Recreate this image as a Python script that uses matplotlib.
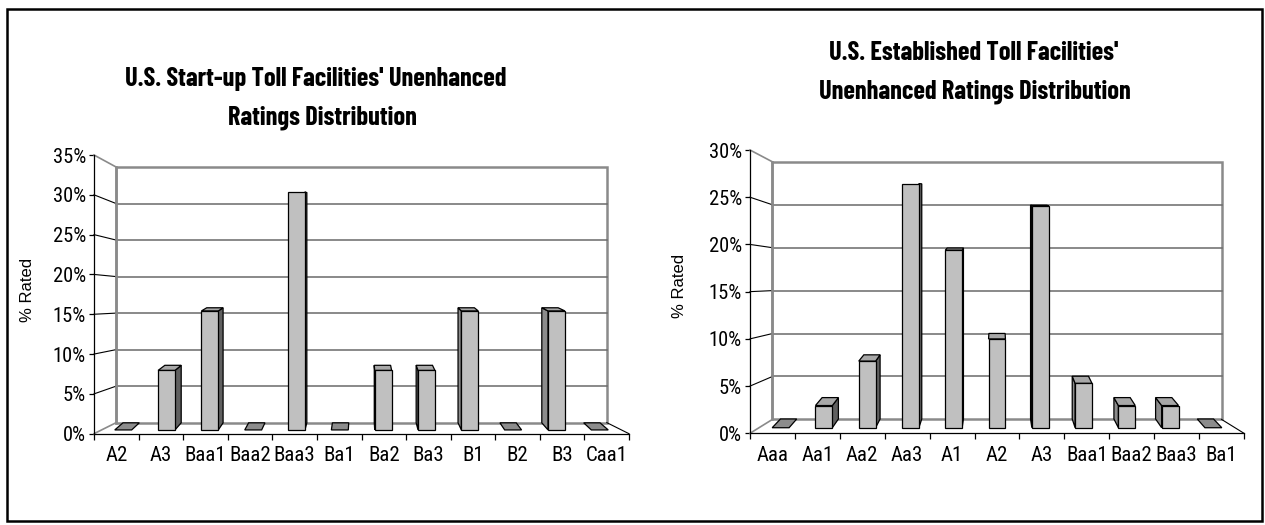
import numpy as np
import matplotlib.pyplot as plt
from matplotlib.patches import Polygon, Rectangle

# chart data
startup_ratings = ['A2', 'A3', 'Baa1', 'Baa2', 'Baa3', 'Ba1', 'Ba2', 'Ba3', 'B1', 'B2', 'B3', 'Caa1']
startup_pct = [0, 7.69, 15.38, 0, 30.77, 0, 7.69, 7.69, 15.38, 0, 15.38, 0]

established_ratings = ['Aaa', 'Aa1', 'Aa2', 'Aa3', 'A1', 'A2', 'A3', 'Baa1', 'Baa2', 'Baa3', 'Ba1']
established_pct = [0, 2.44, 7.32, 26.83, 19.51, 9.76, 24.39, 4.88, 2.44, 2.44, 0]

startup_title = ["U.S. Start-up Toll Facilities' Unenhanced", "Ratings Distribution"]
established_title = ["U.S. Established Toll Facilities'", "Unenhanced Ratings Distribution"]

W, H = 1265, 525
NARROW = ['Roboto Condensed', 'DejaVu Sans']
TITLE_FONT = ['Barlow Condensed', 'Roboto Condensed', 'DejaVu Sans']

fig = plt.figure(figsize=(W / 100, H / 100), dpi=100)
fig.patch.set_facecolor('white')


def px_axes(x0, x1, y_top, y_bot):
    # axes box from pixel corners
    return fig.add_axes([x0 / W, (H - y_bot) / H, (x1 - x0) / W, (y_bot - y_top) / H])


def proj(x, v, t, cx, vpy, sb, lift=0.0):
    # simple perspective: depth t=0 front plane, t=1 back wall
    s = 1 - (1 - sb) * t
    return (cx + (x - cx) * s, vpy + (v - vpy) * s + lift)


def face(ax, pts, fc, ec='black', lw=0.9, z=5):
    ax.add_patch(Polygon(pts, closed=True, facecolor=fc, edgecolor=ec, lw=lw,
                         joinstyle='miter', clip_on=False, zorder=z))


def draw_chart(ax, labels, values, ymax, vpy, sb, t0):
    n = len(labels)
    cx = (n - 1) / 2
    P = lambda x, v, t: proj(x, v, t, cx, vpy, sb)
    xl, xr = -0.5, n - 0.5
    wall = '#8a8a8a'
    grid = '#6a6a6a'

    # back wall, side wall, floor
    face(ax, [P(xl, 0, 1), P(xr, 0, 1), P(xr, ymax, 1), P(xl, ymax, 1)], 'white', wall, 1.8, 1)
    for v in np.arange(5, ymax, 5):
        a, b, c = P(xl, v, 0), P(xl, v, 1), P(xr, v, 1)
        ax.plot([a[0], b[0]], [a[1], b[1]], color='black', lw=0.8, zorder=2, clip_on=False)
        ax.plot([b[0], c[0]], [b[1], c[1]], color=grid, lw=1.1, zorder=2, clip_on=False)
    for (x, v, col) in [(xl, ymax, wall), (xl, 0, wall), (xr, 0, 'black')]:
        a, b = P(x, v, 0), P(x, v, 1)
        ax.plot([a[0], b[0]], [a[1], b[1]], color=col, lw=1.2 if col == wall else 0.8, zorder=2, clip_on=False)
    a, b = P(xl, 0, 1), P(xl, ymax, 1)
    ax.plot([a[0], b[0]], [a[1], b[1]], color=wall, lw=1.8, zorder=2, clip_on=False)

    # bars (a little extra lift going back so top faces show like Excel)
    B = lambda x, v, t: proj(x, v, t, cx, vpy, sb, lift=0.9 * (t - t0))
    w, d = 0.39, 0.39
    t1 = t0 + d
    for i, v in enumerate(values):
        l, r = i - w / 2, i + w / 2
        top = [B(l, v, t0), B(r, v, t0), B(r, v, t1), B(l, v, t1)]
        if v == 0:
            face(ax, top, '#8c8c8c', z=4)
            continue
        if i < cx:
            face(ax, [B(r, 0, t0), B(r, 0, t1), B(r, v, t1), B(r, v, t0)], '#606060', z=4)
        elif i > cx:
            face(ax, [B(l, 0, t0), B(l, 0, t1), B(l, v, t1), B(l, v, t0)], '#8c8c8c', z=4)
        if top[3][1] > top[0][1]:
            face(ax, top, '#a8a8a8', z=4)
        face(ax, [B(l, 0, t0), B(r, 0, t0), B(r, v, t0), B(l, v, t0)], '#c0c0c0', z=5)

    ax.set_xlim(xl, xr)
    ax.set_ylim(0, ymax)
    for s in ['top', 'right']:
        ax.spines[s].set_visible(False)
    for s in ['left', 'bottom']:
        ax.spines[s].set_color('black')
        ax.spines[s].set_linewidth(0.9)
        ax.spines[s].set_zorder(6)
    ax.set_facecolor('none')
    ax.set_yticks(np.arange(0, ymax + 1, 5))
    ax.set_yticklabels([f'{int(t)}%' for t in np.arange(0, ymax + 1, 5)], family=NARROW, fontsize=14.8)
    ax.tick_params(axis='y', length=3.6, width=0.9, pad=2.2)
    ax.set_xticks(np.arange(n))
    ax.set_xticklabels(labels, family=NARROW, fontsize=15)
    ax.set_xticks(np.arange(n + 1) - 0.5, minor=True)
    ax.tick_params(axis='x', which='major', length=0, pad=9)
    ax.tick_params(axis='x', which='minor', length=4, width=0.9)


ax1 = px_axes(94, 629, 155, 433.7)
draw_chart(ax1, startup_ratings, startup_pct, 35, 16.75, 0.917, 0.34)

ax2 = px_axes(750, 1244, 150, 433.3)
draw_chart(ax2, established_ratings, established_pct, 30, 16.2, 0.909, 0.40)

# titles
tfont = dict(family=TITLE_FONT, fontsize=19, fontweight='bold', ha='center', va='baseline')
fig.text(316 / W, 1 - 86 / H, startup_title[0], **tfont)
fig.text(322 / W, 1 - 124 / H, startup_title[1], **tfont)
fig.text(974 / W, 1 - 60 / H, established_title[0], **tfont)
fig.text(975 / W, 1 - 98 / H, established_title[1], **tfont)

# y labels
yfont = dict(family=['Liberation Sans', 'DejaVu Sans'], fontsize=12, rotation=90, ha='center', va='center')
fig.text(27 / W, 1 - 290 / H, '% Rated', **yfont)
fig.text(680 / W, 1 - 285.5 / H, '% Rated', **yfont)

# outer frame
fig.add_artist(Rectangle((7.5 / W, 1 - 521 / H), (1262 - 7.5) / W, (521 - 8.5) / H,
                         transform=fig.transFigure, fill=False, ec='black', lw=1.8))

fig.savefig('out.png', dpi=100)
